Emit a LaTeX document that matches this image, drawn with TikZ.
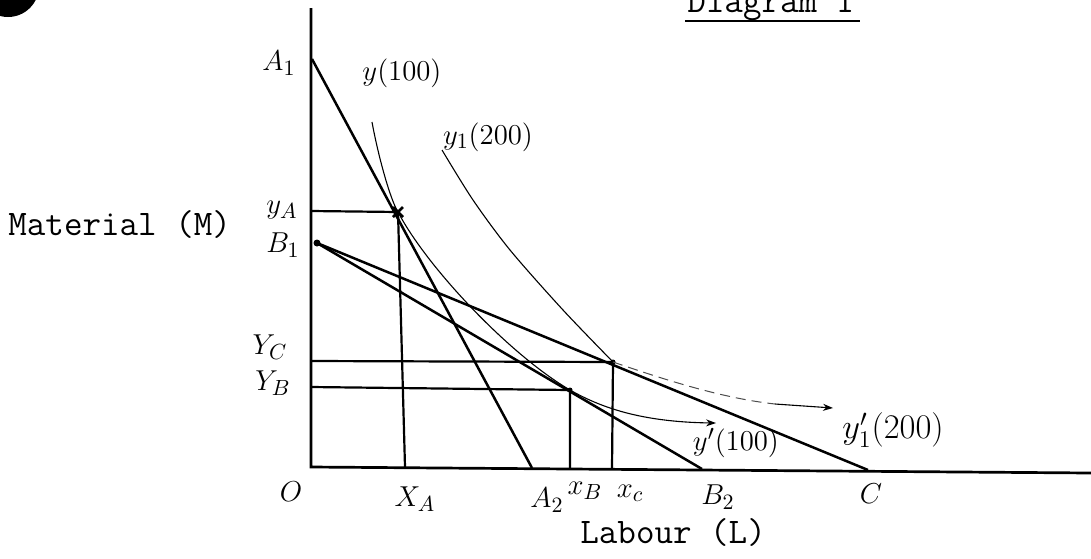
\documentclass[tikz,border=0pt]{standalone}
\usepackage{fontspec}
\usetikzlibrary{arrows.meta,calc}
\begin{document}
\begin{tikzpicture}[x=0.5pt,y=-0.5pt,
  axis/.style={line width=1.35pt},
  budget/.style={line width=1.25pt},
  guide/.style={line width=1.1pt},
  iso/.style={line width=0.55pt},
  isofaint/.style={line width=0.5pt, black!70, dash pattern=on 5pt off 3pt},
  tip/.style={-{Stealth[length=5pt,width=3.5pt]}},
  hand/.style={inner sep=0pt, font=\fontsize{15}{17}\selectfont},
  tt/.style={inner sep=0pt, font=\fontsize{18}{20}\selectfont\ttfamily},
]
\useasboundingbox (0,0) rectangle (1091,558);
\clip (0,0) rectangle (1091,558);
\fill[white] (0,0) rectangle (1091,558);

% punch-hole blob
\fill[black] (8,-14) circle[radius=31];

% key points
\coordinate (O) at (311,467);
\coordinate (Ytop) at (311,8);
\coordinate (Xend) at (1091,473);
\coordinate (A1) at (312,59);
\coordinate (A2) at (532,468);
\coordinate (B1) at (317,243);
\coordinate (B2) at (702,469);
\coordinate (C) at (868,470);
\coordinate (PA) at (398,212);
\coordinate (PB) at (570,390);
\coordinate (PC) at (613,362);
\coordinate (yA) at (311,211);
\coordinate (yC) at (311,361);
\coordinate (yB) at (311,387);
\coordinate (xA) at (405,467);
\coordinate (xB) at (570,468);
\coordinate (xC) at (612,469);
\coordinate (I1s) at (372,122);
\coordinate (I1e) at (716,423);
\coordinate (I2s) at (442,150);
\coordinate (I2e) at (833,408);

% axes
\draw[axis] (Ytop) -- (O) -- (Xend);

% budget lines
\draw[budget] (A1) -- (A2);
\draw[budget] (B1) -- (B2);
\draw[budget] (B1) -- (C);
\fill (B1) circle[radius=3.5];

% guide lines
\draw[guide] (yA) -- (PA) -- (xA);
\draw[guide] (yC) -- (PC) -- (xC);
\draw[guide] (yB) -- (PB) -- (xB);

% cross mark and dots at tangency points
\draw[line width=1.4pt] ($(PA)+(-5,-5)$) -- ($(PA)+(5,5)$) ($(PA)+(-5,5)$) -- ($(PA)+(5,-5)$);
\fill (PB) circle[radius=2.5];
\fill (PC) circle[radius=2.5];

% isoquant y(100)
\draw[iso] (I1s) .. controls (378,155) and (390,199) .. (PA)
  .. controls (427,267.5) and (510,355) .. (PB);
\draw[iso,tip] (PB) .. controls (600,407) and (640,422) .. (I1e);

% isoquant y1(200)
\draw[iso] plot[smooth] coordinates {(I2s) (473,200) (510,250) (563,310) (PC)};
\draw[isofaint] (PC) .. controls (660,378) and (720,398) .. (775,404);
\draw[iso,tip] (775,404) -- (I2e);

% handwritten labels
\node[hand] (lA1) at (279,63) {$A_1$};
\node[hand] (ly100) at (402,73) {$y\bigl(100\bigr)$};
\node[hand] (ly200) at (488,137) {$y_1\bigl(200\bigr)$};
\node[hand] (lyA) at (282,210) {$y_A$};
\node[hand] (lB1) at (283,245) {$B_1$};
\node[hand] (lYC) at (270,347) {$Y_C$};
\node[hand] (lYB) at (273,383) {$Y_B$};
\node[hand] (lO) at (291,492) {$O$};
\node[hand] (lXA) at (415,499) {$X_A$};
\node[hand] (lA2) at (547,500) {$A_2$};
\node[hand] (lxB) at (585,491) {$x_B$};
\node[hand] (lxC) at (630,493) {$x_c$};
\node[hand] (lB2) at (718,497) {$B_2$};
\node[hand] (lC) at (871,494) {$C$};
\node[hand] (lyp100) at (736,443) {$y'(100)$};
\node[hand, font=\fontsize{16.5}{18}\selectfont] (lyp200) at (893,430) {$y_1'\bigl(200\bigr)$};

% typed labels
\node[tt, anchor=base west] (mat) at (8,235) {Material (M)};
\node[tt, anchor=base west] (lab) at (580,543) {Labour (L)};
\node[tt, anchor=base west] (dia) at (687,12) {Diagram 1};
\draw[line width=1.1pt] (685,21) -- (860,21);
\end{tikzpicture}
\end{document}
